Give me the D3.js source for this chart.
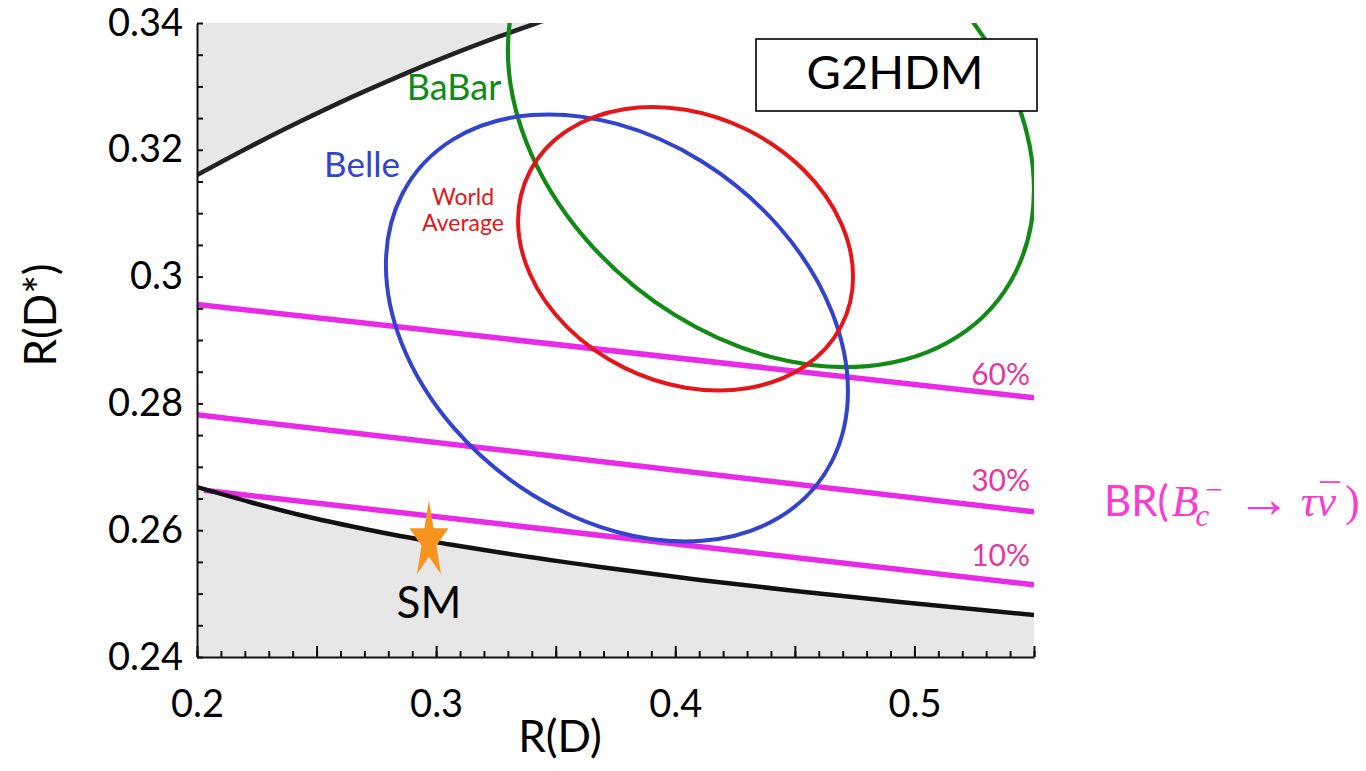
<!DOCTYPE html>
<html><head><meta charset="utf-8">
<script src="https://cdn.jsdelivr.net/npm/d3@7"></script>
<style>
html,body{margin:0;padding:0;background:#fff;}
svg{display:block;}
text{font-family:Lato,"Open Sans",sans-serif;}
</style></head>
<body>
<svg id="chart" width="1366" height="771"></svg>
<script>
// ---- data ----
const xDomain = [0.2, 0.55];
const yDomain = [0.24, 0.34];
const xTickLabels = ["0.2", "0.3", "0.4", "0.5"];
const yTickLabels = ["0.24", "0.26", "0.28", "0.3", "0.32", "0.34"];

// excluded-region boundaries [R(D), R(D*)]
const upperBound = [[0.2,0.31603],[0.22216,0.32049],[0.24307,0.32445],[0.26398,0.32819],[0.28489,0.33167],[0.30580,0.33492],[0.32670,0.33792],[0.34218,0.34],[0.35598,0.34173]];
const lowerBound = [[0.2,0.26681],[0.22216,0.26445],[0.24307,0.26240],[0.26398,0.26066],[0.28489,0.25909],[0.30580,0.25775],[0.32670,0.25648],[0.36852,0.25420],[0.41034,0.25215],[0.45215,0.25033],[0.49397,0.24868],[0.55,0.24662]];

// BR(Bc -> tau nu) contours
const brLevels = ["60%", "30%", "10%"];
const br60 = [[0.2,0.2956],[0.55,0.2809]];
const br30 = [[0.2,0.2782],[0.55,0.2629]];
const br10 = [[0.2029,0.2663],[0.55,0.2514]];

// experimental 1-sigma ellipses: centre [R(D), R(D*)], conjugate semi-diameters u (to the rightmost point) and v (vertical)
const ellipseNames = ["BaBar", "Belle", "World Average"];
const ellipseCenters = [[0.4400, 0.3247], [0.3756, 0.2919], [0.4043, 0.3044]];
const ellipseU = [[0.1100, -0.01104], [0.0966, -0.00994], [0.07004, -0.00442]];
const ellipseV = [[0, 0.03738], [0, 0.03218], [0, 0.02192]];
const ellipseColors = ["#138a16", "#3344cc", "#e3161a"];

const smPoint = [0.297, 0.2583];

// ---- drawing ----
const svg = d3.select("#chart");
const x = d3.scaleLinear().domain(xDomain).range([197, 1034]);
const y = d3.scaleLinear().domain(yDomain).range([657, 23]);

svg.append("defs").append("clipPath").attr("id","plotClip")
  .append("rect").attr("x", x(xDomain[0])).attr("y", y(yDomain[1]))
  .attr("width", x(xDomain[1]) - x(xDomain[0])).attr("height", y(yDomain[0]) - y(yDomain[1]));

const plot = svg.append("g").attr("clip-path","url(#plotClip)");

const grayFill = "#e8e7e8";
const areaUp = d3.area().x(d=>x(d[0])).y0(d=>y(d[1])).y1(()=>y(yDomain[1]) - 20).curve(d3.curveMonotoneX);
const areaDown = d3.area().x(d=>x(d[0])).y0(d=>y(d[1])).y1(()=>y(yDomain[0]) + 5).curve(d3.curveMonotoneX);
plot.append("path").datum(upperBound).attr("d", areaUp).attr("fill", grayFill);
plot.append("path").datum(lowerBound).attr("d", areaDown).attr("fill", grayFill);

const line = d3.line().x(d=>x(d[0])).y(d=>y(d[1])).curve(d3.curveMonotoneX);

// BR lines
const magenta = "#e414e4";
[br60, br30, br10].forEach(b => {
  plot.append("path").datum(b).attr("d", line).attr("fill","none")
    .attr("stroke", magenta).attr("stroke-width", 5.5).attr("stroke-opacity", 0.9);
});

// boundaries
plot.append("path").datum(upperBound).attr("d", line).attr("fill","none").attr("stroke","#222").attr("stroke-width",4.5);
plot.append("path").datum(lowerBound).attr("d", line).attr("fill","none").attr("stroke","#111").attr("stroke-width",4.5);

// ellipses: unit circle mapped through the scales by an affine matrix
ellipseCenters.forEach((c, i) => {
  const cx = x(c[0]), cy = y(c[1]);
  const ux = x(c[0] + ellipseU[i][0]) - cx, uy = y(c[1] + ellipseU[i][1]) - cy;
  const vx = x(c[0] + ellipseV[i][0]) - cx, vy = y(c[1] + ellipseV[i][1]) - cy;
  plot.append("circle").attr("cx", 0).attr("cy", 0).attr("r", 1)
    .attr("transform", `matrix(${ux},${uy},${vx},${vy},${cx},${cy})`)
    .attr("fill", "none").attr("stroke", ellipseColors[i])
    .attr("stroke-width", i === 0 ? 4.2 : 4)
    .attr("vector-effect", "non-scaling-stroke");
});

// axes
const xMinor = d3.range(0, 36).map(i => +(0.2 + i*0.01).toFixed(2));
const xMajor = d3.range(0, 8).map(i => +(0.2 + i*0.05).toFixed(2));
const yMinor = d3.range(0, 21).map(i => +(0.24 + i*0.005).toFixed(3));

const gx = svg.append("g").attr("transform", `translate(0,${y(yDomain[0])})`);
gx.call(d3.axisBottom(x).tickValues(xMinor).tickSize(-6).tickSizeOuter(0).tickFormat(""));
gx.selectAll("path,line").attr("stroke","#111").attr("stroke-width",2);
const gx2 = svg.append("g").attr("transform", `translate(0,${y(yDomain[0])})`);
gx2.call(d3.axisBottom(x).tickValues(xMajor).tickSize(-11).tickSizeOuter(0).tickFormat(""));
gx2.select(".domain").remove();
gx2.selectAll("line").attr("stroke","#111").attr("stroke-width",2);
const gx3 = svg.append("g").attr("transform", `translate(0,${y(yDomain[0])})`);
gx3.call(d3.axisBottom(x).tickValues(xTickLabels.map(Number)).tickSize(0).tickPadding(33)
  .tickFormat((d,i)=>xTickLabels[i]));
gx3.select(".domain").remove();
gx3.selectAll("text").attr("font-family","Lato, sans-serif").attr("font-size",38).attr("fill","#000");

const gy = svg.append("g").attr("transform", `translate(${x(xDomain[0])},0)`);
gy.call(d3.axisLeft(y).tickValues(yMinor).tickSize(-6).tickSizeOuter(0).tickFormat(""));
gy.selectAll("path,line").attr("stroke","#111").attr("stroke-width",2);
const gy2 = svg.append("g").attr("transform", `translate(${x(xDomain[0])},0)`);
gy2.call(d3.axisLeft(y).tickValues(yTickLabels.map(Number)).tickSize(0).tickPadding(14)
  .tickFormat((d,i)=>yTickLabels[i]));
gy2.select(".domain").remove();
gy2.selectAll("text").attr("font-family","Lato, sans-serif").attr("font-size",38).attr("fill","#000");

// axis titles
svg.append("text").attr("x", 560).attr("y", 752).attr("text-anchor","middle")
  .attr("font-size",44).attr("fill","#000").text("R(D)");
svg.append("text").attr("transform","translate(56,315) rotate(-90)").attr("text-anchor","middle")
  .attr("font-size",44).attr("fill","#000").text("R(D*)");

// SM star
svg.append("path")
  .attr("d", d3.symbol().type(d3.symbolStar).size(1887)())
  .attr("transform", `translate(${x(smPoint[0])},${y(smPoint[1])}) scale(0.5,1)`)
  .attr("fill","#f7941d");
svg.append("text").attr("x", x(smPoint[0])).attr("y", 618).attr("text-anchor","middle")
  .attr("font-size",44).attr("fill","#000").text("SM");

// ellipse labels
svg.append("text").attr("x", 454).attr("y", 100).attr("text-anchor","middle")
  .attr("font-size",36).attr("fill",ellipseColors[0]).text(ellipseNames[0]);
svg.append("text").attr("x", 362).attr("y", 177).attr("text-anchor","middle")
  .attr("font-size",35).attr("fill",ellipseColors[1]).text(ellipseNames[1]);
svg.append("text").attr("x", 463).attr("y", 205).attr("text-anchor","middle")
  .attr("font-size",23).attr("fill",ellipseColors[2]).text("World");
svg.append("text").attr("x", 463).attr("y", 231).attr("text-anchor","middle")
  .attr("font-size",23).attr("fill",ellipseColors[2]).text("Average");

// BR level labels
const pctColor = "#e4379f";
[[brLevels[0], 385], [brLevels[1], 491], [brLevels[2], 566]].forEach(([t, yy]) => {
  svg.append("text").attr("x", 1030).attr("y", yy).attr("text-anchor","end")
    .attr("font-size",30).attr("fill", pctColor).text(t);
});

// BR label
const brColor = "#f83ccf";
const serif = "'Liberation Serif','DejaVu Serif',serif";
const br = svg.append("text").attr("x", 1104).attr("y", 516).attr("font-size",42).attr("fill", brColor);
br.append("tspan").text("BR(");
br.append("tspan").attr("font-family", serif).attr("font-style","italic").attr("font-size",44).attr("dx",3).text("B");
br.append("tspan").attr("font-family", serif).attr("font-style","italic").attr("font-size",31).attr("dx",-3).attr("dy",10).text("c");
br.append("tspan").attr("font-family", serif).attr("font-size",31).attr("dx",-4).attr("dy",-26).text("\u2212");
br.append("tspan").attr("font-family", serif).attr("font-size",54).attr("dx",14).attr("dy",17).text("\u2192");
br.append("tspan").attr("font-family", serif).attr("font-style","italic").attr("font-size",44).attr("dx",10).attr("dy",-1).text("\u03C4\u03BD");
br.append("tspan").attr("font-family", serif).attr("font-size",40).attr("dx",-16).attr("dy",-4).text("\u00AF");
br.append("tspan").attr("font-family", serif).attr("font-size",44).attr("dx",5).attr("dy",4).text(")");

// model box
svg.append("rect").attr("x", 756).attr("y", 39).attr("width", 281).attr("height", 72)
  .attr("fill","#fff").attr("stroke","#000").attr("stroke-width",1.6);
svg.append("text").attr("x", 895).attr("y", 89).attr("text-anchor","middle")
  .attr("font-size",47).attr("fill","#000").text("G2HDM");
</script>
</body></html>
